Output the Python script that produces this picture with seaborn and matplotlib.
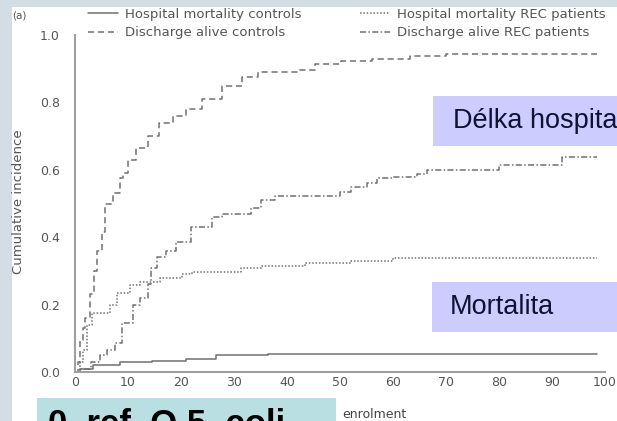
import matplotlib
matplotlib.use("Agg")
import matplotlib.pyplot as plt
from matplotlib.patches import Rectangle
from matplotlib.ticker import MultipleLocator
import seaborn as sns
import pandas as pd

# --- data (days since enrolment, cumulative incidence) ---
hm_ctrl_x = [0, 1, 3.4, 8.4, 14.6, 21, 26.6, 36.5, 98.5]
hm_ctrl_y = [0, 0.008, 0.021, 0.029, 0.033, 0.039, 0.050, 0.053, 0.053]

da_ctrl_x = [0, 0.5, 0.9, 1.5, 1.9, 2.8, 3.5, 4.1, 5, 5.6, 7.1, 8.4, 9, 10, 11.6,
             13.7, 15.9, 18.4, 21, 24, 27.7, 31.5, 34.6, 42, 45.3, 50.2, 56,
             63.3, 70, 98.5]
da_ctrl_y = [0, 0.03, 0.095, 0.13, 0.16, 0.23, 0.30, 0.36, 0.415, 0.5, 0.53,
             0.575, 0.59, 0.63, 0.665, 0.70, 0.74, 0.76, 0.78, 0.81, 0.85,
             0.875, 0.89, 0.896, 0.914, 0.923, 0.929, 0.938, 0.944, 0.944]

hm_rec_x = [0, 1, 1.5, 2.2, 3.2, 5.2, 6.6, 8, 10.3, 12.2, 16, 20.2, 22, 31.3,
            35.2, 43.4, 52, 60, 98.5]
hm_rec_y = [0, 0.03, 0.065, 0.14, 0.175, 0.175, 0.2, 0.233, 0.258, 0.267, 0.28,
            0.29, 0.296, 0.308, 0.314, 0.323, 0.33, 0.338, 0.338]

da_rec_x = [0, 1, 3, 4.7, 6, 7.5, 8.8, 10.9, 12.2, 13.7, 14.4, 15.5, 17.2, 19,
            21.9, 25.8, 27.7, 33.3, 35, 37.8, 48, 50, 52, 55, 57, 60, 64.6,
            66.5, 80, 91.8, 98.5]
da_rec_y = [0, 0.01, 0.03, 0.05, 0.065, 0.086, 0.145, 0.2, 0.22, 0.26, 0.31,
            0.34, 0.36, 0.385, 0.43, 0.46, 0.47, 0.487, 0.51, 0.522, 0.522,
            0.535, 0.55, 0.56, 0.575, 0.58, 0.588, 0.6, 0.614, 0.638, 0.638]

labels = ["Hospital mortality controls", "Discharge alive controls",
          "Hospital mortality REC patients", "Discharge alive REC patients"]

W, H = 617, 421


def fx(px):
    return px / W


def fy(py):
    return 1 - py / H


sns.set_style("white")
plt.rcParams["font.family"] = ["DejaVu Sans"]

fig = plt.figure(figsize=(W / 100, H / 100), dpi=100)
fig.patch.set_facecolor("white")

# slide frame bands
fig.add_artist(Rectangle((0, 0), fx(12), 1, transform=fig.transFigure,
                         fc="#d2dde4", ec="none", zorder=0))
fig.add_artist(Rectangle((0, fy(7)), 1, 7 / H, transform=fig.transFigure,
                         fc="#d2dde4", ec="none", zorder=0))

ax = fig.add_axes([fx(75), fy(372), (605 - 75) / W, (372 - 35) / H])
ax.set_facecolor("none")

lc = "#707070"
series = [
    (hm_ctrl_x, hm_ctrl_y, "-", labels[0]),
    (da_ctrl_x, da_ctrl_y, (0, (4, 2.5)), labels[1]),
    (hm_rec_x, hm_rec_y, (0, (1, 1.2)), labels[2]),
    (da_rec_x, da_rec_y, (0, (4, 1.5, 1, 1.5)), labels[3]),
]
for xs, ys, ls, lab in series:
    df = pd.DataFrame({"day": xs, "inc": ys})
    sns.lineplot(data=df, x="day", y="inc", ax=ax, color=lc, linestyle=ls,
                 linewidth=1.1, drawstyle="steps-post", label=lab, legend=False)

ax.set_xlim(0, 100)
ax.set_ylim(0, 1.0)
ax.set_xlabel("")
ax.set_ylabel("")
for s in ["top", "right"]:
    ax.spines[s].set_visible(False)
for s in ["left", "bottom"]:
    ax.spines[s].set_color("#a0a0a0")
    ax.spines[s].set_linewidth(1.5)
ax.xaxis.set_major_locator(MultipleLocator(10))
ax.yaxis.set_major_locator(MultipleLocator(0.2))
ax.yaxis.set_minor_locator(MultipleLocator(0.1))
ax.yaxis.set_major_formatter(matplotlib.ticker.FormatStrFormatter("%.1f"))
ax.tick_params(axis="y", which="both", direction="out", length=6, width=1.2,
               color="#a0a0a0", labelsize=9, labelcolor="#555555", pad=5)
ax.tick_params(axis="x", which="both", direction="in", length=5, width=1.2,
               color="#a0a0a0", labelsize=9, labelcolor="#555555", pad=3)

# legends (two columns, drawn above the axes)
handles = ax.get_lines()
leg_kw = dict(frameon=False, fontsize=9.5, handlelength=2.3, handletextpad=0.5,
              labelspacing=0.4, borderpad=0, borderaxespad=0,
              labelcolor="#555555", loc="upper left")
leg1 = fig.legend(handles[:2], labels[:2], bbox_to_anchor=(fx(88), fy(8)),
                  **leg_kw)
leg2 = fig.legend(handles[2:], labels[2:], bbox_to_anchor=(fx(360), fy(8)),
                  **leg_kw)

fig.text(fx(12), fy(15), "(a)", fontsize=7.5, color="#555555", va="center")
fig.text(fx(19), fy(202), "Cumulative incidence", rotation=90, fontsize=9.5,
         color="#555555", ha="center", va="center")
# x-axis label: only its last word shows beside the slide box
fig.text(fx(342), fy(418), "enrolment", fontsize=9,
         color="#444444", ha="left", va="baseline", zorder=1)

# slide overlays
box = "#ccccfe"
fig.add_artist(Rectangle((fx(433), fy(146)), (W - 433) / W, 50 / H,
                         transform=fig.transFigure, fc=box, ec="none", zorder=5))
fig.text(fx(453), fy(121), "Délka hospita", fontsize=19.5,
         family=["Liberation Sans", "DejaVu Sans"], color="#111133",
         va="center", zorder=6)
fig.add_artist(Rectangle((fx(432), fy(332)), (W - 432) / W, 50 / H,
                         transform=fig.transFigure, fc=box, ec="none", zorder=5))
fig.text(fx(450), fy(307), "Mortalita", fontsize=19.5,
         family=["Liberation Sans", "DejaVu Sans"], color="#111133",
         va="center", zorder=6)

fig.add_artist(Rectangle((fx(37), 0), (336 - 37) / W, (421 - 398) / H,
                         transform=fig.transFigure, fc="#b9dfe3", ec="none",
                         zorder=5))
fig.text(fx(48), fy(434), "0. ref. Q.5. coli", fontsize=25, weight="bold",
         family=["Liberation Sans", "DejaVu Sans"], color="#000000",
         va="baseline", zorder=6)

fig.savefig("out.png", dpi=100)
